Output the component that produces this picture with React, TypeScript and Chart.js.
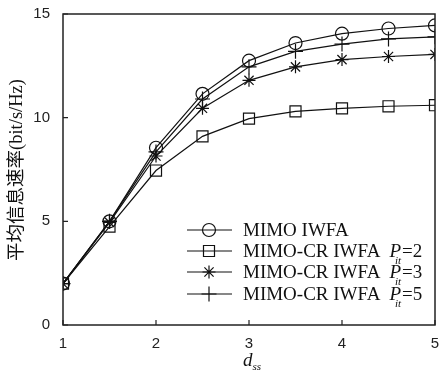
import React, { useEffect, useRef } from "react";
import { Chart, registerables } from "chart.js";
Chart.register(...registerables);

const xValues = [1, 1.5, 2, 2.5, 3, 3.5, 4, 4.5, 5];
const mimoIwfa = [2.0, 5.0, 8.55, 11.15, 12.75, 13.6, 14.05, 14.3, 14.45];
const crP2 = [2.0, 4.75, 7.45, 9.1, 9.95, 10.3, 10.45, 10.55, 10.6];
const crP3 = [2.0, 4.95, 8.15, 10.45, 11.8, 12.45, 12.8, 12.95, 13.05];
const crP5 = [2.0, 5.0, 8.35, 10.9, 12.45, 13.2, 13.55, 13.8, 13.9];
const xTicks = [1, 2, 3, 4, 5];
const yTicks = [0, 5, 10, 15];
const seriesNames = ["MIMO IWFA", "MIMO-CR IWFA", "MIMO-CR IWFA", "MIMO-CR IWFA"];
const seriesPit: (number | null)[] = [null, 2, 3, 5];
const seriesMarkers = ["circle", "rect", "star", "cross"];
const yTitle = "平均信息速率(bit/s/Hz)";
const xTitleMain = "d";
const xTitleSub = "ss";

const markerRadius: Record<string, number> = { circle: 6.5, rect: 7.8, star: 6.5, cross: 7.5 };

function drawMarker(ctx: CanvasRenderingContext2D, style: string, x: number, y: number) {
  ctx.beginPath();
  if (style === "circle") {
    ctx.arc(x, y, 6.5, 0, Math.PI * 2);
  } else if (style === "rect") {
    ctx.rect(x - 5.5, y - 5.5, 11, 11);
  } else if (style === "star") {
    const r = 6.5;
    for (let k = 0; k < 4; k++) {
      const a = (k * Math.PI) / 4;
      ctx.moveTo(x - r * Math.cos(a), y - r * Math.sin(a));
      ctx.lineTo(x + r * Math.cos(a), y + r * Math.sin(a));
    }
  } else {
    ctx.moveTo(x, y - 7.5);
    ctx.lineTo(x, y + 7.5);
    ctx.moveTo(x - 7.5, y);
    ctx.lineTo(x + 7.5, y);
  }
  ctx.stroke();
}

const decorPlugin = {
  id: "decor",
  afterDraw(chart: any) {
    const ctx: CanvasRenderingContext2D = chart.ctx;
    const area = chart.chartArea;
    const xs = chart.scales.x;
    const ys = chart.scales.y;
    ctx.save();
    ctx.strokeStyle = "#222";
    ctx.lineWidth = 1.5;
    ctx.strokeRect(area.left, area.top, area.right - area.left, area.bottom - area.top);
    ctx.lineWidth = 1.2;
    ctx.beginPath();
    xTicks.forEach((v) => {
      const px = xs.getPixelForValue(v);
      ctx.moveTo(px, area.bottom);
      ctx.lineTo(px, area.bottom - 5);
    });
    yTicks.forEach((v) => {
      const py = ys.getPixelForValue(v);
      ctx.moveTo(area.left, py);
      ctx.lineTo(area.left + 5, py);
    });
    ctx.stroke();

    // legend
    const rowsY = [230, 251, 272, 294];
    ctx.fillStyle = "#111";
    ctx.strokeStyle = "#111";
    ctx.textBaseline = "alphabetic";
    seriesNames.forEach((name, i) => {
      const y = rowsY[i];
      ctx.lineWidth = 1.2;
      ctx.beginPath();
      ctx.moveTo(187, y);
      ctx.lineTo(232, y);
      ctx.stroke();
      drawMarker(ctx, seriesMarkers[i], 209, y);
      let tx = 243;
      const base = y + 6;
      ctx.font = "19px 'Liberation Serif'";
      ctx.textAlign = "left";
      ctx.fillText(name, tx, base);
      const p = seriesPit[i];
      if (p !== null) {
        tx += ctx.measureText(name).width + 9;
        ctx.font = "italic 19px 'Liberation Serif'";
        ctx.fillText("P", tx, base);
        tx += ctx.measureText("P").width;
        ctx.font = "italic 11px 'Liberation Serif'";
        ctx.fillText("it", tx - 6, base + 7);
        ctx.font = "19px 'Liberation Serif'";
        ctx.fillText("=" + p, tx + 1, base);
      }
    });

    // x title
    ctx.textAlign = "left";
    ctx.font = "italic 19px 'Liberation Serif'";
    ctx.fillText(xTitleMain, 243, 366);
    const dw = ctx.measureText(xTitleMain).width;
    ctx.font = "italic 11px 'Liberation Serif'";
    ctx.fillText(xTitleSub, 243 + dw, 370);

    // y title
    ctx.translate(17, 170);
    ctx.rotate(-Math.PI / 2);
    ctx.textAlign = "center";
    ctx.textBaseline = "middle";
    ctx.font = "18.5px 'Liberation Serif', 'Noto Sans CJK SC'";
    ctx.fillText(yTitle, 0, 0);
    ctx.restore();
  },
};

export default function App() {
  const ref = useRef<HTMLCanvasElement>(null);
  useEffect(() => {
    document.body.style.margin = "0";
    const mk = (label: string, data: number[], style: string) => ({
      label,
      data: xValues.map((x, i) => ({ x, y: data[i] })),
      borderColor: "#111",
      borderWidth: 1.2,
      pointStyle: style,
      pointRadius: markerRadius[style],
      pointBorderColor: "#111",
      pointBackgroundColor: "rgba(0,0,0,0)",
      pointBorderWidth: 1.2,
      fill: false,
      tension: 0,
    });
    const chart = new Chart(ref.current!, {
      type: "line",
      data: {
        datasets: [
          mk("MIMO IWFA", mimoIwfa, "circle"),
          mk("P2", crP2, "rect"),
          mk("P3", crP3, "star"),
          mk("P5", crP5, "cross"),
        ],
      },
      options: {
        responsive: false,
        animation: false,
        devicePixelRatio: 1,
        layout: { padding: { top: 11, right: 4, left: 0, bottom: 0 } },
        plugins: { legend: { display: false }, tooltip: { enabled: false }, title: { display: false } },
        scales: {
          x: {
            type: "linear",
            min: 1,
            max: 5,
            ticks: {
              stepSize: 1,
              padding: 2,
              color: "#222",
              font: { family: "'Liberation Sans'", size: 15 },
              maxRotation: 0,
            },
            grid: { display: false },
            border: { display: false },
            afterFit: (s: any) => {
              s.height = 46;
            },
          },
          y: {
            type: "linear",
            min: 0,
            max: 15,
            ticks: {
              stepSize: 5,
              padding: 5,
              color: "#222",
              font: { family: "'Liberation Sans'", size: 15 },
            },
            grid: { display: false },
            border: { display: false },
            afterFit: (s: any) => {
              s.width = 63;
            },
          },
        },
      } as any,
      plugins: [decorPlugin],
    });
    return () => chart.destroy();
  }, []);
  return (
    <div style={{ width: 444, height: 371 }}>
      <canvas ref={ref} width={444} height={371} style={{ width: 444, height: 371 }} />
    </div>
  );
}
